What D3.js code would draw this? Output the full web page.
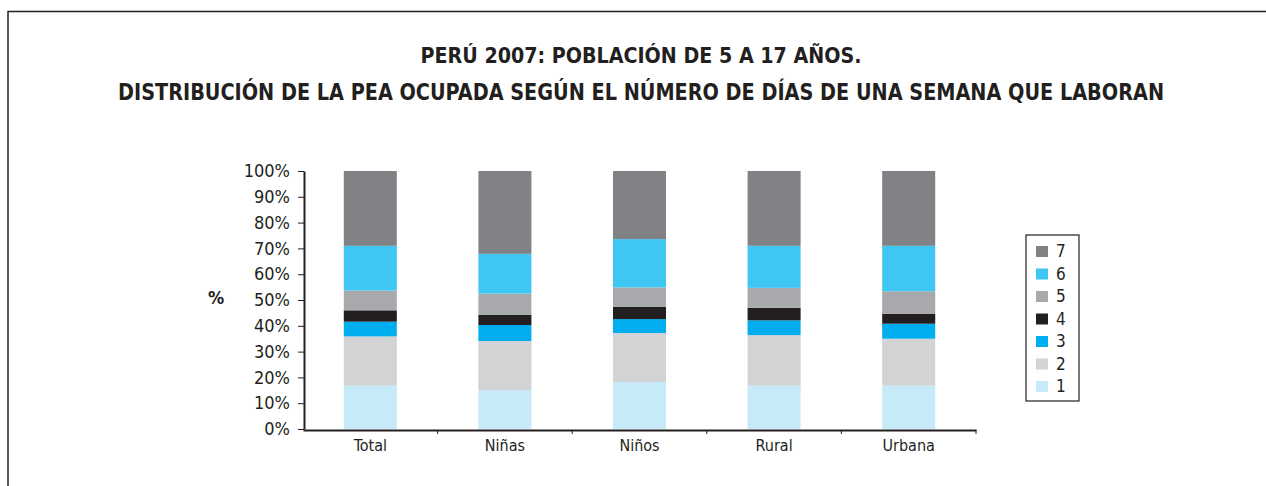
<!DOCTYPE html>
<html>
<head>
<meta charset="utf-8">
<script src="https://cdn.jsdelivr.net/npm/d3@7"></script>
<style>
  body { margin: 0; background: #fff; }
  text { font-family: "Liberation Sans Narrow", "DejaVu Sans Condensed", sans-serif; fill: #231f20; }
</style>
</head>
<body>
<div id="chart"></div>
<script>
// categories and values (%), per number of days worked
const categories = ["Total", "Niñas", "Niños", "Rural", "Urbana"];
const days = ["1", "2", "3", "4", "5", "6", "7"];
const dia1 = [16.8, 15.1, 18.2, 16.8, 16.8];
const dia2 = [19.1, 19.0, 19.0, 19.6, 18.2];
const dia3 = [5.7, 6.2, 5.4, 5.7, 5.8];
const dia4 = [4.4, 3.9, 4.7, 4.9, 3.9];
const dia5 = [7.7, 8.3, 7.6, 7.7, 8.7];
const dia6 = [17.3, 15.4, 18.7, 16.3, 17.6];
const dia7 = [29.0, 32.1, 26.4, 29.0, 29.0];
const yTicks = [0, 10, 20, 30, 40, 50, 60, 70, 80, 90, 100];
const colors = ["#c7eaf9", "#d1d3d4", "#00aeef", "#231f20", "#a7a9ac", "#3fc7f4", "#808285"];

const width = 1266, height = 486;
const svg = d3.select("#chart").append("svg")
    .attr("width", width)
    .attr("height", height);

// marco
svg.append("path")
    .attr("d", "M8,486 L8,11.5 L1266,11.5")
    .attr("fill", "none")
    .attr("stroke", "#231f20")
    .attr("stroke-width", 1.5);

// titulo (ajustado al ancho del original)
function titulo(txt, yPos, ancho) {
    const t = svg.append("text")
        .attr("x", 641).attr("y", yPos)
        .attr("text-anchor", "middle")
        .attr("font-size", 27).attr("font-weight", "bold")
        .text(txt);
    const natural = t.node().getComputedTextLength();
    if (natural > ancho * 1.04) {
        t.attr("font-size", 27 * ancho * 1.04 / natural);
    }
    t.attr("textLength", ancho).attr("lengthAdjust", "spacingAndGlyphs");
}
titulo("PERÚ 2007: POBLACIÓN DE 5 A 17 AÑOS.", 63, 441);
titulo("DISTRIBUCIÓN DE LA PEA OCUPADA SEGÚN EL NÚMERO DE DÍAS DE UNA SEMANA QUE LABORAN", 100, 1046);

// escalas
const x = d3.scaleBand()
    .domain(categories)
    .range([303, 976])
    .paddingInner(0.606)
    .paddingOuter(0.303);
const y = d3.scaleLinear().domain([0, 100]).range([429, 171]);

const series = [dia1, dia2, dia3, dia4, dia5, dia6, dia7];
const table = categories.map((c, i) => {
    const row = { cat: c };
    days.forEach((d, k) => row[d] = series[k][i]);
    return row;
});
const stacked = d3.stack().keys(days)(table);

// barras
svg.append("g").selectAll("g")
    .data(stacked)
    .enter().append("g")
    .attr("fill", (d, k) => colors[k])
    .selectAll("rect")
    .data(d => d)
    .enter().append("rect")
    .attr("x", d => x(d.data.cat))
    .attr("width", x.bandwidth())
    .attr("y", d => y(d[1]))
    .attr("height", d => y(d[0]) - y(d[1]));

// eje y
const yAxis = svg.append("g")
    .attr("transform", "translate(304,0)")
    .call(d3.axisLeft(y).tickValues(yTicks).tickFormat(d => d + "%").tickSize(6).tickSizeOuter(0));
yAxis.select(".domain").attr("stroke", "#231f20").attr("stroke-width", 2);
yAxis.selectAll(".tick line").attr("stroke", "#231f20");
yAxis.selectAll(".tick text")
    .attr("x", -14)
    .attr("font-size", 18)
    .attr("font-family", null)
    .attr("fill", "#231f20");

// eje x
const xAxis = svg.append("g")
    .attr("transform", "translate(0,430)")
    .call(d3.axisBottom(x).tickSize(0).tickSizeOuter(0));
xAxis.select(".domain").attr("stroke", "#231f20").attr("stroke-width", 2);
xAxis.selectAll(".tick text")
    .attr("y", 10)
    .attr("font-size", 16)
    .attr("font-family", null)
    .attr("fill", "#231f20");
// marcas entre categorias
const bounds = categories.slice(1).map(c => x(c) - x.step() * x.paddingInner() / 2).concat([976]);
xAxis.selectAll("line.sep")
    .data(bounds)
    .enter().append("line")
    .attr("class", "sep")
    .attr("x1", d => d).attr("x2", d => d)
    .attr("y1", 0).attr("y2", 4)
    .attr("stroke", "#231f20");

svg.append("text")
    .attr("x", 216).attr("y", 304)
    .attr("text-anchor", "middle")
    .attr("font-size", 18).attr("font-weight", "bold")
    .text("%");

// leyenda
const legend = svg.append("g");
legend.append("rect")
    .attr("x", 1026).attr("y", 235)
    .attr("width", 53).attr("height", 166)
    .attr("fill", "none").attr("stroke", "#231f20").attr("stroke-width", 1.2);
const items = legend.selectAll("g.item")
    .data(days.slice().reverse())
    .enter().append("g")
    .attr("class", "item")
    .attr("transform", (d, i) => `translate(1036,${251 + i * 22.5})`);
items.append("rect")
    .attr("y", -5).attr("width", 12).attr("height", 11)
    .attr("fill", d => colors[days.indexOf(d)]);
items.append("text")
    .attr("x", 20).attr("y", 6)
    .attr("font-size", 17)
    .text(d => d);
</script>
</body>
</html>
